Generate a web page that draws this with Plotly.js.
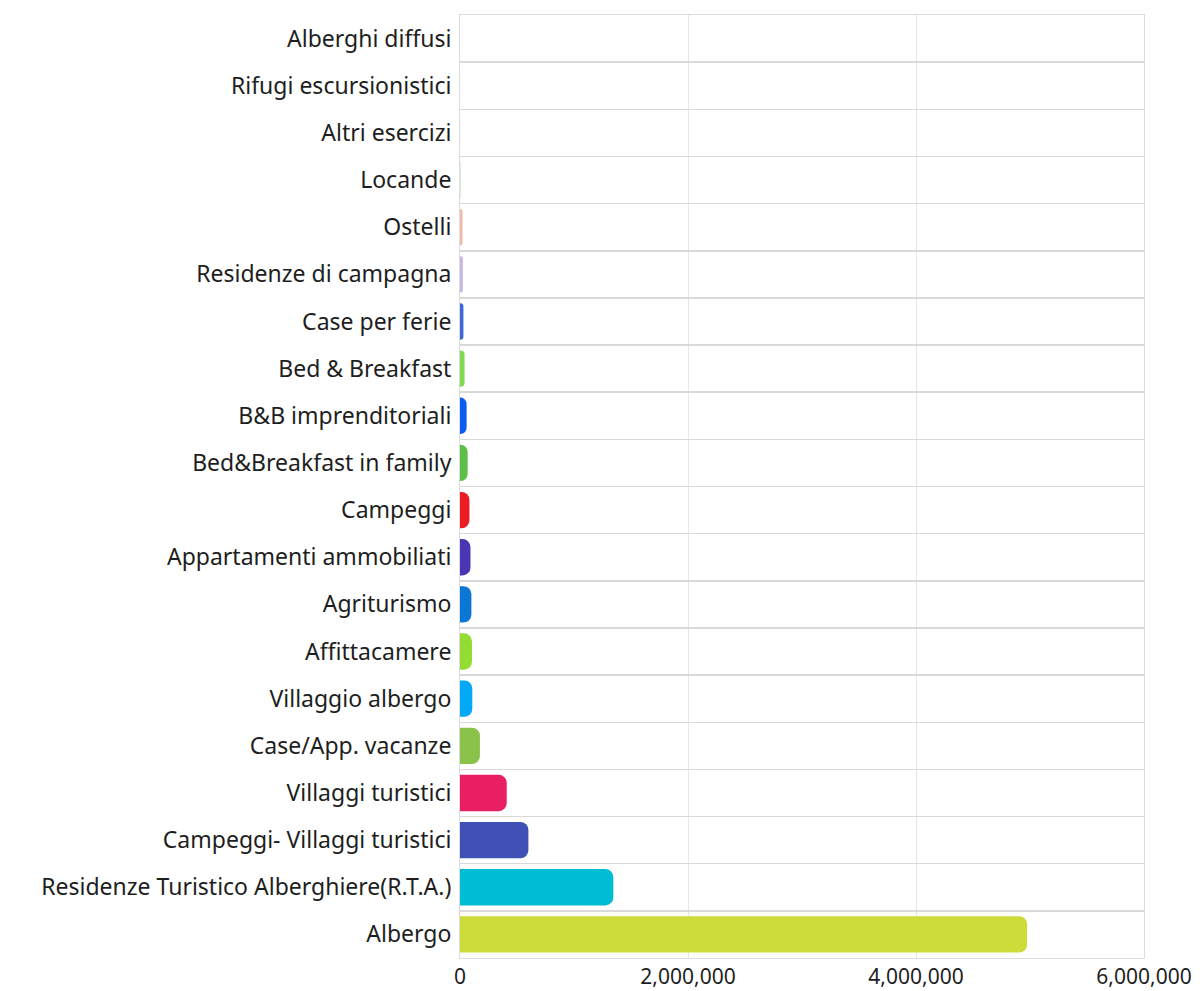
<!DOCTYPE html>
<html>
<head>
<meta charset="utf-8">
<script src="https://cdn.plot.ly/plotly-3.0.1.min.js"></script>
<style>
html,body{margin:0;padding:0;background:#fff;overflow:hidden;}
#chart{width:1200px;height:991px;}
</style>
</head>
<body>
<div id="chart"></div>
<script>
const categories = [
  "Albergo",
  "Residenze Turistico Alberghiere(R.T.A.)",
  "Campeggi- Villaggi turistici",
  "Villaggi turistici",
  "Case/App. vacanze",
  "Villaggio albergo",
  "Affittacamere",
  "Agriturismo",
  "Appartamenti ammobiliati",
  "Campeggi",
  "Bed&Breakfast in family",
  "B&B imprenditoriali",
  "Bed & Breakfast",
  "Case per ferie",
  "Residenze di campagna",
  "Ostelli",
  "Locande",
  "Altri esercizi",
  "Rifugi escursionistici",
  "Alberghi diffusi"
];
const values = [
  4975000, 1345000, 600000, 410000, 175000, 108000, 105000, 100000, 92000, 83000,
  67000, 58000, 40000, 30000, 25000, 22000, 10000, 2000, 1000, 500
];
const colors = [
  "#CDDC39", "#00BCD4", "#3F51B5", "#E91E63", "#8BC34A", "#03A9F4", "#94DC34", "#0A77D6",
  "#4A36B2", "#EC1C24", "#5CBF48", "#0D5CF0", "#7FDB52", "#3D68D6", "#C8B8E6", "#F3B9A6",
  "#DCEEDC", "#E8E8E8", "#EEEEEE", "#F2F2F2"
];
const xTicks = [0, 2000000, 4000000, 6000000];

const trace = {
  type: "bar",
  orientation: "h",
  x: values,
  y: categories,
  marker: { color: colors, cornerradius: 8, line: { width: 0 } },
  hoverinfo: "x+y"
};

const layout = {
  width: 1200,
  height: 991,
  margin: { l: 460, r: 56, t: 15, b: 33, pad: 0 },
  paper_bgcolor: "#ffffff",
  plot_bgcolor: "#ffffff",
  showlegend: false,
  bargap: 0.23,
  font: { family: "Noto Sans, Open Sans, sans-serif", size: 23, color: "#1e1e1e" },
  xaxis: {
    range: [0, 6000000],
    tickvals: xTicks,
    tickformat: ",",
    showgrid: true,
    gridcolor: "#e6e6e6",
    gridwidth: 1,
    zeroline: false,
    showline: true,
    linecolor: "#dcdcdc",
    mirror: true,
    ticks: "",
    ticklabelstandoff: 0,
    tickfont: { size: 21, color: "#1e1e1e" },
    fixedrange: true
  },
  yaxis: {
    type: "category",
    categoryorder: "array",
    categoryarray: categories,
    tickson: "boundaries",
    showgrid: true,
    gridcolor: "#d9d9d9",
    gridwidth: 1.5,
    showline: true,
    linecolor: "#dcdcdc",
    mirror: true,
    ticks: "",
    ticklabelstandoff: 3,
    tickfont: { size: 23, color: "#1e1e1e" },
    automargin: false,
    fixedrange: true
  }
};

Plotly.newPlot("chart", [trace], layout, { displayModeBar: false, staticPlot: true });
</script>
</body>
</html>
